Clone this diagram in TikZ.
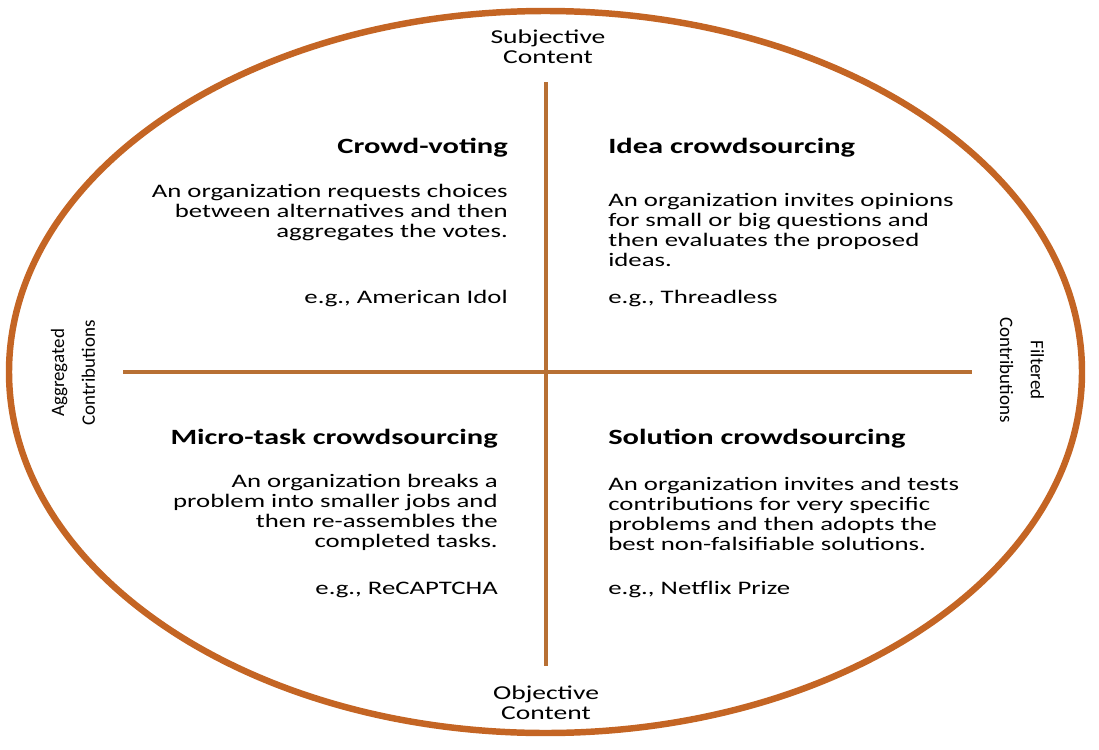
\documentclass[tikz,border=0pt]{standalone}
\usepackage{fontspec}
\setmainfont{Carlito}[FakeStretch=1.4]
\newfontfamily\uprightfont{Carlito}
\definecolor{rim}{RGB}{196,101,36}
\definecolor{axis}{RGB}{184,112,52}

\begin{document}
\begin{tikzpicture}
      [
        x=0.025cm, y=-0.025cm,
        rimstyle/.style={draw=rim, line width=4.6pt},
        axisstyle/.style={draw=axis, line width=2.6pt},
        headstyle/.style={font=\fontsize{15.5}{17}\selectfont\bfseries, inner sep=0pt},
        textstyle/.style={font=\fontsize{13.6}{14.2}\selectfont, inner sep=0pt},
        sidestyle/.style={font=\fontsize{14}{14.5}\selectfont, align=center, inner sep=0pt},
        turnstyle/.style={font=\uprightfont\fontsize{13.5}{22}\selectfont, align=center, inner sep=0pt}
      ]

      \useasboundingbox (0,0) rectangle (1099,750);
      \draw[rimstyle] (545.5,372) ellipse [x radius=536.5, y radius=361];

      \coordinate (top) at (546,82);
      \coordinate (bottom) at (546,666);
      \coordinate (left) at (123,372);
      \coordinate (right) at (972,372);
      \draw[axisstyle] (top) -- (bottom);
      \draw[axisstyle] (left) -- (right);

      \node[sidestyle] (subj) at (548,47) {Subjective\\Content};
      \node[sidestyle] (obj) at (546,703) {Objective\\Content};
      \node[turnstyle, rotate=90] (aggr) at (73,373) {Aggregated\\Contributions};
      \node[turnstyle, rotate=-90] (filt) at (1022,370) {Filtered\\Contributions};

      \node[headstyle, anchor=base east] (vote) at (508,153) {Crowd-voting};
      \node[textstyle, align=right, anchor=base east] (voteText) at (508,237)
        {An organization requests choices\\between alternatives and then\\aggregates the votes.};
      \node[textstyle, anchor=base east] (voteEx) at (508,303) {e.g., American Idol};

      \node[headstyle, anchor=base west] (idea) at (608,153) {Idea crowdsourcing};
      \node[textstyle, align=left, anchor=base west] (ideaText) at (608,266)
        {An organization invites opinions\\for small or big questions and\\then evaluates the proposed\\ideas.};
      \node[textstyle, anchor=base west] (ideaEx) at (608,303) {e.g., Threadless};

      \node[headstyle, anchor=base east] (micro) at (498,444) {Micro-task crowdsourcing};
      \node[textstyle, align=right, anchor=base east] (microText) at (498,547)
        {An organization breaks a\\problem into smaller jobs and\\then re-assembles the\\completed tasks.};
      \node[textstyle, anchor=base east] (microEx) at (498,594) {e.g., ReCAPTCHA};

      \node[headstyle, anchor=base west] (sol) at (608,444) {Solution crowdsourcing};
      \node[textstyle, align=left, anchor=base west] (solText) at (608,550)
        {An organization invites and tests\\contributions for very specific\\problems and then adopts the\\best non-falsifiable solutions.};
      \node[textstyle, anchor=base west] (solEx) at (608,594) {e.g., Netflix Prize};

    \end{tikzpicture}
\end{document}
